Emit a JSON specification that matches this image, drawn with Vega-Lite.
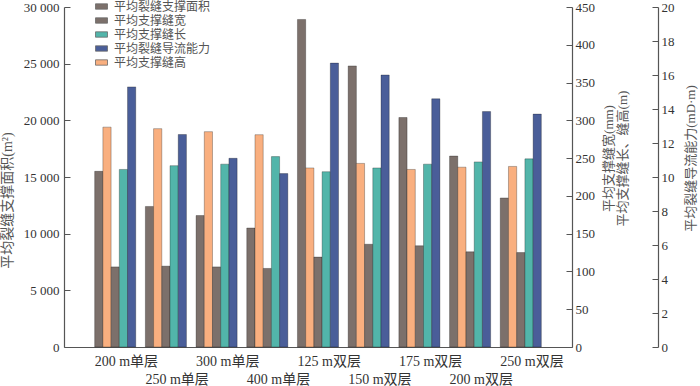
{
  "$schema": "https://vega.github.io/schema/vega-lite/v6.json",
  "autosize": {"type": "none"},
  "padding": {"left": 64, "top": 7, "right": 128, "bottom": 39},
  "width": 508,
  "height": 340,
  "background": "white",
  "data": {"values": [
    {"c": "200 m单层", "s": "平均裂缝支撑面积", "v": 15500},
    {"c": "200 m单层", "s": "平均支撑缝高", "v": 291},
    {"c": "200 m单层", "s": "平均支撑缝宽", "v": 106},
    {"c": "200 m单层", "s": "平均支撑缝长", "v": 235},
    {"c": "200 m单层", "s": "平均裂缝导流能力", "v": 15.3},
    {"c": "250 m单层", "s": "平均裂缝支撑面积", "v": 12400},
    {"c": "250 m单层", "s": "平均支撑缝高", "v": 289},
    {"c": "250 m单层", "s": "平均支撑缝宽", "v": 107},
    {"c": "250 m单层", "s": "平均支撑缝长", "v": 240},
    {"c": "250 m单层", "s": "平均裂缝导流能力", "v": 12.5},
    {"c": "300 m单层", "s": "平均裂缝支撑面积", "v": 11600},
    {"c": "300 m单层", "s": "平均支撑缝高", "v": 285},
    {"c": "300 m单层", "s": "平均支撑缝宽", "v": 106},
    {"c": "300 m单层", "s": "平均支撑缝长", "v": 242},
    {"c": "300 m单层", "s": "平均裂缝导流能力", "v": 11.1},
    {"c": "400 m单层", "s": "平均裂缝支撑面积", "v": 10500},
    {"c": "400 m单层", "s": "平均支撑缝高", "v": 281},
    {"c": "400 m单层", "s": "平均支撑缝宽", "v": 104},
    {"c": "400 m单层", "s": "平均支撑缝长", "v": 252},
    {"c": "400 m单层", "s": "平均裂缝导流能力", "v": 10.2},
    {"c": "125 m双层", "s": "平均裂缝支撑面积", "v": 28900},
    {"c": "125 m双层", "s": "平均支撑缝高", "v": 237},
    {"c": "125 m双层", "s": "平均支撑缝宽", "v": 119},
    {"c": "125 m双层", "s": "平均支撑缝长", "v": 232},
    {"c": "125 m双层", "s": "平均裂缝导流能力", "v": 16.7},
    {"c": "150 m双层", "s": "平均裂缝支撑面积", "v": 24800},
    {"c": "150 m双层", "s": "平均支撑缝高", "v": 243},
    {"c": "150 m双层", "s": "平均支撑缝宽", "v": 136},
    {"c": "150 m双层", "s": "平均支撑缝长", "v": 237},
    {"c": "150 m双层", "s": "平均裂缝导流能力", "v": 16.0},
    {"c": "175 m双层", "s": "平均裂缝支撑面积", "v": 20250},
    {"c": "175 m双层", "s": "平均支撑缝高", "v": 235},
    {"c": "175 m双层", "s": "平均支撑缝宽", "v": 134},
    {"c": "175 m双层", "s": "平均支撑缝长", "v": 242},
    {"c": "175 m双层", "s": "平均裂缝导流能力", "v": 14.6},
    {"c": "200 m双层", "s": "平均裂缝支撑面积", "v": 16850},
    {"c": "200 m双层", "s": "平均支撑缝高", "v": 238},
    {"c": "200 m双层", "s": "平均支撑缝宽", "v": 126},
    {"c": "200 m双层", "s": "平均支撑缝长", "v": 245},
    {"c": "200 m双层", "s": "平均裂缝导流能力", "v": 13.85},
    {"c": "250 m双层", "s": "平均裂缝支撑面积", "v": 13150},
    {"c": "250 m双层", "s": "平均支撑缝高", "v": 239},
    {"c": "250 m双层", "s": "平均支撑缝宽", "v": 125},
    {"c": "250 m双层", "s": "平均支撑缝长", "v": 249},
    {"c": "250 m双层", "s": "平均裂缝导流能力", "v": 13.7}
  ]},
  "encoding": {
    "x": {
      "field": "c", "type": "nominal",
      "sort": ["200 m单层", "250 m单层", "300 m单层", "400 m单层", "125 m双层", "150 m双层", "175 m双层", "200 m双层", "250 m双层"],
      "scale": {"paddingInner": 0.19, "paddingOuter": 0.605},
      "axis": {
        "title": null, "ticks": false, "labelAngle": 0, "labelAlign": "left", "labelOffset": -20.5,
        "labelBaseline": "top", "labelPadding": 7, "labelFontSize": 14, "labelLineHeight": 18,
        "labelOverlap": false, "labelBound": false, "labelFlush": false,
        "labelExpr": "indexof(['250 m单层','400 m单层','150 m双层','200 m双层'], datum.value) >= 0 ? ['', datum.label] : datum.label"
      }
    },
    "xOffset": {
      "field": "s", "type": "nominal",
      "scale": {"domain": ["平均裂缝支撑面积", "平均支撑缝高", "平均支撑缝宽", "平均支撑缝长", "平均裂缝导流能力"], "paddingInner": 0, "paddingOuter": 0}
    },
    "color": {
      "field": "s", "type": "nominal",
      "scale": {
        "domain": ["平均裂缝支撑面积", "平均支撑缝宽", "平均支撑缝长", "平均裂缝导流能力", "平均支撑缝高"],
        "range": ["#7c706b", "#7c706b", "#52b5aa", "#4a5e99", "#f9af7f"]
      },
      "legend": {
        "title": null, "orient": "none", "legendX": 31, "legendY": -7,
        "symbolType": "M-1,-0.45H1V0.45H-1Z", "symbolSize": 144,
        "symbolStrokeColor": "#6a6a6a", "symbolStrokeWidth": 0.8,
        "labelFontSize": 12, "labelColor": "#555", "rowPadding": 1, "labelOffset": 6
      }
    }
  },
  "layer": [
    {
      "transform": [{"filter": "datum.s === '平均裂缝支撑面积'"}],
      "mark": {"type": "bar", "stroke": "#000", "strokeOpacity": 0.35, "strokeWidth": 0.8},
      "encoding": {
        "y": {
          "field": "v", "type": "quantitative",
          "scale": {"domain": [0, 30000], "nice": false},
          "axis": {
            "orient": "left", "values": [0, 5000, 10000, 15000, 20000, 25000, 30000],
            "labelExpr": "replace(format(datum.value, ','), ',', ' ')",
            "title": "平均裂缝支撑面积(m²)", "titleX": -50, "titleY": 193, "titleFontSize": 14,
            "tickSize": -6, "labelPadding": 11
          }
        }
      }
    },
    {
      "transform": [{"filter": {"field": "s", "oneOf": ["平均支撑缝高", "平均支撑缝宽", "平均支撑缝长"]}}],
      "mark": {"type": "bar", "stroke": "#000", "strokeOpacity": 0.35, "strokeWidth": 0.8},
      "encoding": {
        "y": {
          "field": "v", "type": "quantitative",
          "scale": {"domain": [0, 450], "nice": false},
          "axis": {
            "orient": "right", "values": [0, 50, 100, 150, 200, 250, 300, 350, 400, 450],
            "title": ["平均支撑缝宽(mm)", "平均支撑缝长、缝高(m)"], "titleAngle": 270,
            "titleX": 36, "titleY": 151, "titleBaseline": "middle", "titleLineHeight": 14,
            "tickSize": -6, "labelPadding": 9
          }
        }
      }
    },
    {
      "transform": [{"filter": "datum.s === '平均裂缝导流能力'"}],
      "mark": {"type": "bar", "stroke": "#000", "strokeOpacity": 0.35, "strokeWidth": 0.8},
      "encoding": {
        "y": {
          "field": "v", "type": "quantitative",
          "scale": {"domain": [0, 20], "nice": false},
          "axis": {
            "orient": "right", "offset": 86, "values": [0, 2, 4, 6, 8, 10, 12, 14, 16, 18, 20],
            "title": "平均裂缝导流能力(mD·m)", "titleAngle": 270,
            "titleX": 32, "titleY": 151, "titleBaseline": "middle",
            "tickSize": -6, "labelPadding": 9
          }
        }
      }
    }
  ],
  "resolve": {"scale": {"y": "independent"}, "axis": {"y": "independent"}},
  "config": {
    "view": {"stroke": null},
    "font": "Liberation Serif, Noto Sans CJK SC",
    "axis": {
      "grid": false, "domainColor": "#555", "tickColor": "#555", "domainWidth": 1.2,
      "labelColor": "#333", "titleColor": "#555", "labelFontSize": 13, "titleFontSize": 13,
      "titleFontWeight": "normal", "labelFont": "Liberation Serif, Noto Sans CJK SC",
      "titleFont": "Liberation Serif, Noto Sans CJK SC"
    },
    "legend": {"labelFont": "Liberation Serif, Noto Sans CJK SC"}
  }
}
